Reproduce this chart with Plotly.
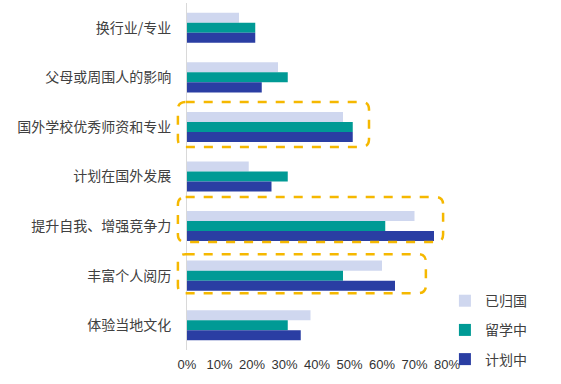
import plotly.graph_objects as go

categories = ["换行业/专业", "父母或周围人的影响", "国外学校优秀师资和专业", "计划在国外发展",
              "提升自我、增强竞争力", "丰富个人阅历", "体验当地文化"]
series_names = ["已归国", "留学中", "计划中"]
returned = [0.16, 0.28, 0.48, 0.19, 0.70, 0.60, 0.38]
studying = [0.21, 0.31, 0.51, 0.31, 0.61, 0.48, 0.31]
planning = [0.21, 0.23, 0.51, 0.26, 0.76, 0.64, 0.35]
x_ticks = [0, 0.1, 0.2, 0.3, 0.4, 0.5, 0.6, 0.7, 0.8]
x_tick_labels = ["0%", "10%", "20%", "30%", "40%", "50%", "60%", "70%", "80%"]

# highlight boxes: (top category index offset, bottom, left value, right value)
highlights = [(1.495, 2.404, -0.028, 0.56), (3.414, 4.323, -0.028, 0.788), (4.566, 5.354, -0.028, 0.735)]

colors = ["#cfd7ef", "#009a95", "#2a3ea3"]
XMAX = 0.8
NCAT = len(categories)

fig = go.Figure()
for name, vals, col in zip(series_names, [returned, studying, planning], colors):
    fig.add_trace(go.Bar(y=categories, x=vals, name=name, orientation="h",
                         marker=dict(color=col, line=dict(width=0)), legendgroup=name))


def ydom(i):
    return (NCAT - 0.5 - i) / NCAT


def xdom(v):
    return v / XMAX


shapes = []
for (t, b, l, r) in highlights:
    x0, x1 = xdom(l), xdom(r)
    y0, y1 = ydom(t), ydom(b)  # y0 top (larger), y1 bottom
    rx = 0.03
    ry = 0.022
    path = (f"M{x0+rx},{y0} L{x1-rx},{y0} Q{x1},{y0} {x1},{y0-ry} L{x1},{y1+ry} "
            f"Q{x1},{y1} {x1-rx},{y1} L{x0+rx},{y1} Q{x0},{y1} {x0},{y1+ry} "
            f"L{x0},{y0-ry} Q{x0},{y0} {x0+rx},{y0} Z")
    shapes.append(dict(type="path", path=path, xref="x domain", yref="y domain",
                       line=dict(color="#f5b800", width=2.5, dash="dash"), layer="above"))

fig.update_layout(
    width=561, height=384,
    margin=dict(l=187, r=114, t=3, b=34),
    paper_bgcolor="white", plot_bgcolor="white",
    barmode="group", bargap=0.394, bargroupgap=0,
    font=dict(family="Noto Sans CJK SC", size=14, color="#404040"),
    showlegend=True,
    legend=dict(x=0.992, y=0.187, xanchor="left", yanchor="top", traceorder="grouped",
                tracegroupgap=8, font=dict(size=14, color="#404040"),
                bgcolor="rgba(0,0,0,0)"),
    shapes=shapes,
    xaxis=dict(range=[0, XMAX], tickvals=x_ticks, ticktext=x_tick_labels, showgrid=False,
               zeroline=False, showline=False, ticks="", ticklabelstandoff=5, automargin=False,
               tickfont=dict(family="Liberation Sans", size=13, color="#333333")),
    yaxis=dict(categoryorder="array", categoryarray=categories, range=[NCAT - 0.5, -0.5],
               showgrid=False, zeroline=False, showline=True, linecolor="#d9d9d9", linewidth=1,
               ticks="", ticklabelstandoff=12, automargin=False,
               tickfont=dict(family="Noto Sans CJK SC", size=14, color="#404040")),
)

fig.write_html("out.html", config={"displayModeBar": False},
               post_script="document.body.style.margin='0';")
